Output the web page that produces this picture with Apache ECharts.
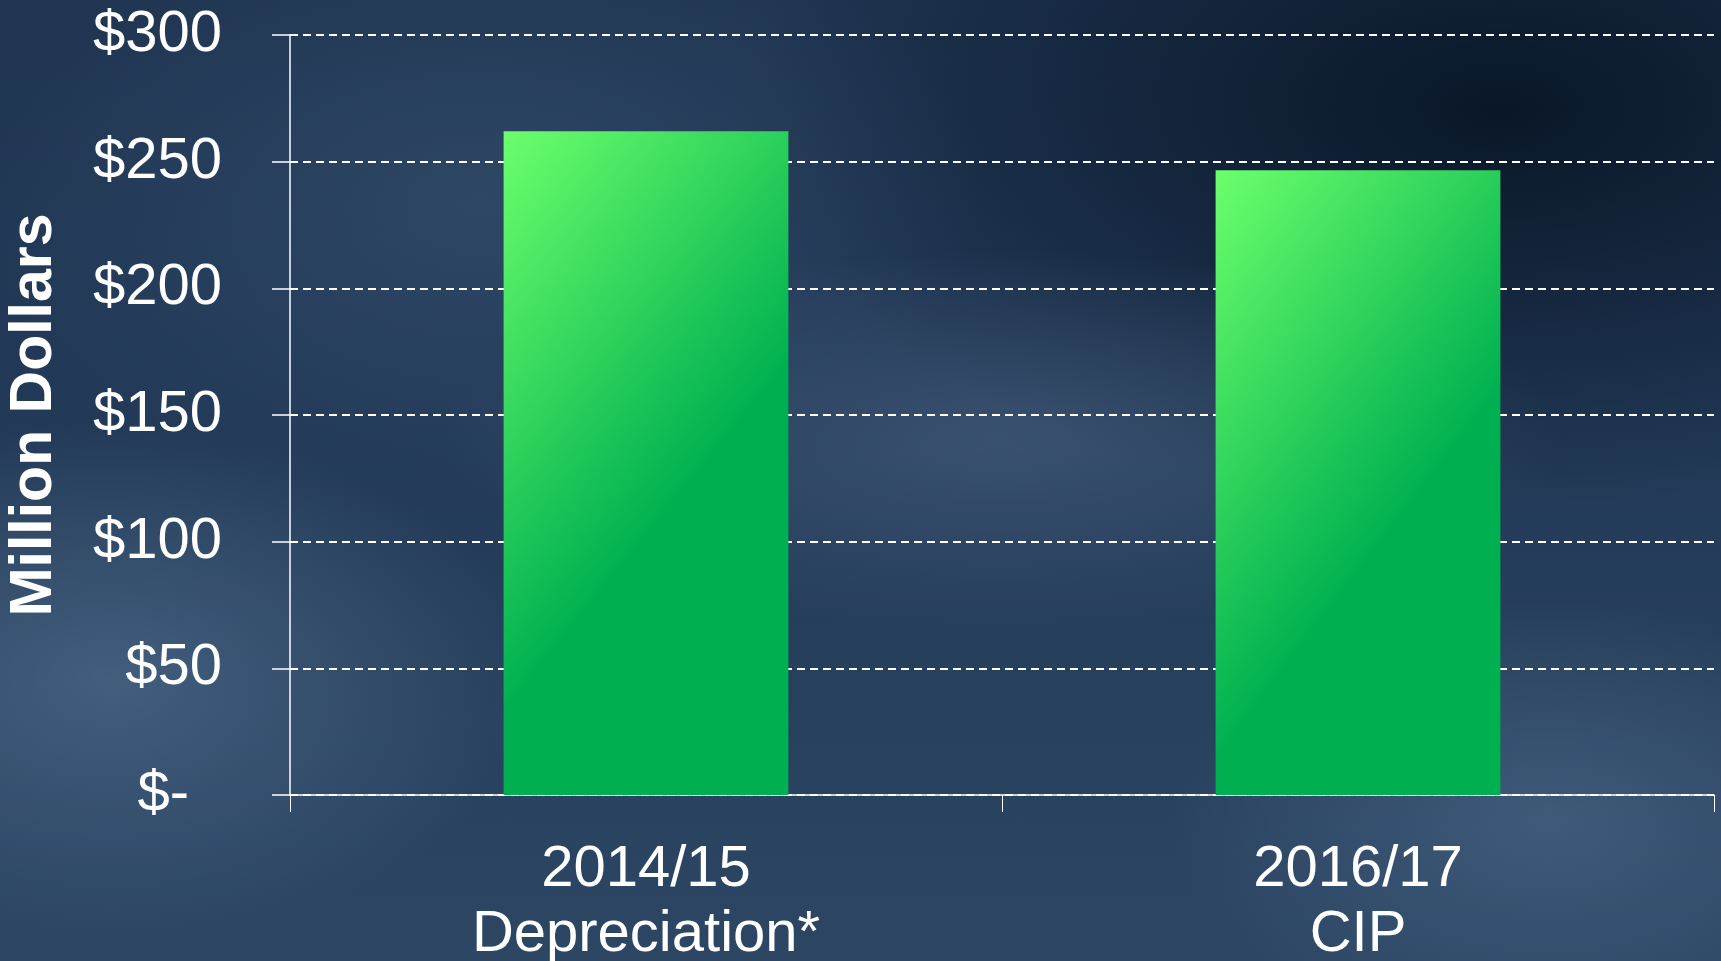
<!DOCTYPE html>
<html>
<head>
<meta charset="utf-8">
<script src="https://cdn.jsdelivr.net/npm/echarts@6/dist/echarts.min.js"></script>
<style>
  html, body { margin: 0; padding: 0; }
  body {
    width: 1721px; height: 961px; overflow: hidden;
    background:
      radial-gradient(ellipse 420px 260px at 110px 680px, rgba(90,120,150,0.55), rgba(90,120,150,0) 100%),
      radial-gradient(ellipse 560px 190px at 1000px 440px, rgba(85,110,140,0.45), rgba(85,110,140,0) 100%),
      radial-gradient(ellipse 380px 220px at 1550px 820px, rgba(90,120,150,0.45), rgba(90,120,150,0) 100%),
      radial-gradient(ellipse 500px 300px at 480px 200px, rgba(70,100,130,0.35), rgba(70,100,130,0) 100%),
      radial-gradient(ellipse 760px 400px at 1500px 110px, rgba(5,15,30,0.8), rgba(5,15,30,0) 100%),
      linear-gradient(180deg, #1f3552 0%, #223a58 45%, #2c4664 100%);
  }
  #chart { width: 1721px; height: 961px; }
</style>
</head>
<body>
<div id="chart"></div>
<script>
// 数据
const years = ['2014/15', '2016/17'];
const kinds = ['Depreciation*', 'CIP'];
const values = [262, 246.6];
const yTicks = [0, 50, 100, 150, 200, 250, 300];

const chart = echarts.init(document.getElementById('chart'));
const font = 'Liberation Sans, Arial, sans-serif';

const option = {
  backgroundColor: 'transparent',
  animation: false,
  grid: { left: 290, right: 7, top: 35, bottom: 166, outerBoundsMode: 'none' },
  xAxis: {
    type: 'category',
    data: years.map((y, i) => y + '\n' + kinds[i]),
    axisLine: { lineStyle: { color: '#fff', width: 1.5 } },
    axisTick: { show: true, length: 17, lineStyle: { color: '#fff', width: 1 } },
    axisLabel: {
      color: '#fff', fontFamily: font, fontSize: 58, lineHeight: 65, margin: 42
    }
  },
  yAxis: {
    type: 'value',
    min: yTicks[0],
    max: yTicks[yTicks.length - 1],
    interval: 50,
    name: 'Million Dollars',
    nameLocation: 'middle',
    nameRotate: 90,
    nameGap: 226,
    nameTextStyle: { color: '#fff', fontFamily: font, fontSize: 59, fontWeight: 'bold' },
    axisLine: { show: true, lineStyle: { color: '#fff', width: 1.5 } },
    axisTick: { show: true, length: 18, lineStyle: { color: '#fff', width: 1.5 } },
    splitLine: { lineStyle: { color: '#fff', width: 2, type: [8, 5] } },
    axisLabel: {
      color: '#fff', fontFamily: font, fontSize: 58, margin: 68,
      formatter: v => v === 0 ? '{d|$-}' : '$' + v,
      rich: { d: { color: '#fff', fontFamily: font, fontSize: 58, padding: [0, 33, 0, 0] } }
    }
  },
  series: [{
    type: 'bar',
    data: values,
    barWidth: '40%',
    itemStyle: {
      color: {
        type: 'linear', x: 0, y: 0, x2: 1, y2: 0.35,
        colorStops: [
          { offset: 0, color: '#6cff6c' },
          { offset: 1, color: '#00b050' }
        ]
      }
    }
  }]
};

chart.setOption(option);
</script>
</body>
</html>
